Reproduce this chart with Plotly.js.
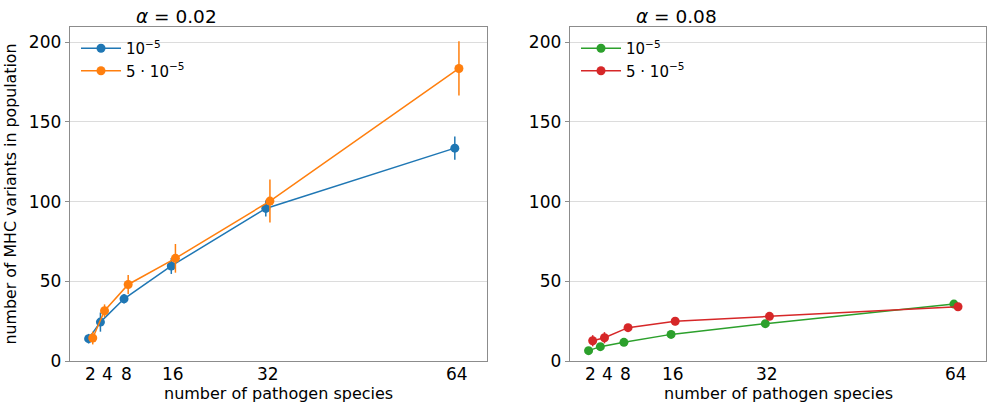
<!DOCTYPE html>
<html><head><meta charset="utf-8">
<script src="https://cdn.plot.ly/plotly-3.0.1.min.js"></script>
<style>html,body{margin:0;padding:0;background:#fff}#c{width:990px;height:404px}</style>
</head><body><div id="c"></div>
<script>
const species = [2, 4, 8, 16, 32, 64];
const tickLabels = ['2', '4', '8', '16', '32', '64'];
const seriesNames = ['10<sup>−5</sup>', '5 · 10<sup>−5</sup>'];
// alpha = 0.02
const a002_low = [14, 24.4, 39, 59.6, 95.7, 133.5];
const a002_low_err = [3, 6, 3, 5, 5, 7.3];
const a002_high = [14.4, 31.5, 48, 64.4, 100.3, 183.5];
const a002_high_err = [4, 4, 6, 9, 13.5, 17];
// alpha = 0.08
const a008_low = [6.5, 9, 11.7, 16.7, 23.4, 35.7];
const a008_low_err = [0.8, 0.8, 0.8, 1, 1, 1];
const a008_high = [12.7, 14.6, 20.9, 24.9, 28, 34];
const a008_high_err = [3.5, 3.5, 2, 2.5, 2, 1.5];

const OFF = 0.35;
const font = 'DejaVu Sans, sans-serif';
function tr(x, y, err, color, name, xa, ya, leg, sign) {
  return {
    x: x.map(v => v + sign * OFF), y: y, name: name,
    type: 'scatter', mode: 'lines+markers',
    xaxis: xa, yaxis: ya, legend: leg,
    line: {color: color, width: 1.5},
    marker: {color: color, size: 9},
    error_y: {type: 'data', array: err, visible: true, color: color, thickness: 1.5, width: 0}
  };
}
const data = [
  tr(species, a002_low, a002_low_err, '#1f77b4', seriesNames[0], 'x', 'y', 'legend', -1),
  tr(species, a002_high, a002_high_err, '#ff7f0e', seriesNames[1], 'x', 'y', 'legend', 1),
  tr(species, a008_low, a008_low_err, '#2ca02c', seriesNames[0], 'x2', 'y2', 'legend2', -1),
  tr(species, a008_high, a008_high_err, '#d62728', seriesNames[1], 'x2', 'y2', 'legend2', 1)
];
const xcommon = {
  range: [-1.5, 69.1], tickvals: species, showticklabels: false,
  showgrid: false, zeroline: false, showline: true, mirror: true,
  linecolor: '#8c8c8c', linewidth: 1.3, ticks: ''
};
const ycommon = {
  range: [0, 209.5], tickvals: [0, 50, 100, 150, 200],
  showgrid: true, gridcolor: '#dcdcdc', gridwidth: 1, zeroline: false,
  showline: true, mirror: true, linecolor: '#8c8c8c', linewidth: 1.3,
  ticks: 'outside', ticklen: 4, tickcolor: '#8c8c8c', tickwidth: 1,
  tickfont: {family: font, size: 17, color: '#000'}
};
const bottom = 1 - 361/404;
const annotations = [
  {text: '<i>α</i> = 0.02', xref: 'paper', yref: 'paper', x: 176/990, y: 1-16/404,
   xanchor: 'center', yanchor: 'middle', showarrow: false, font: {family: font, size: 18.5, color: '#000'}},
  {text: '<i>α</i> = 0.08', xref: 'paper', yref: 'paper', x: 676/990, y: 1-16/404,
   xanchor: 'center', yanchor: 'middle', showarrow: false, font: {family: font, size: 18.5, color: '#000'}},
  {text: 'number of pathogen species', xref: 'paper', yref: 'paper', x: 278/990, y: 1-393/404,
   xanchor: 'center', yanchor: 'middle', showarrow: false, font: {family: font, size: 16, color: '#000'}},
  {text: 'number of pathogen species', xref: 'paper', yref: 'paper', x: 778/990, y: 1-393/404,
   xanchor: 'center', yanchor: 'middle', showarrow: false, font: {family: font, size: 16, color: '#000'}}
];
['x', 'x2'].forEach(xa => {
  species.forEach((s, i) => {
    annotations.push({text: tickLabels[i], xref: xa, yref: 'paper', x: s, y: bottom,
      xanchor: 'center', yanchor: 'top', yshift: -1, xshift: (i === 1 ? 5 : 0), showarrow: false,
      font: {family: font, size: 17, color: '#000'}});
  });
});
const layout = {
  width: 990, height: 404,
  margin: {l: 0, r: 0, t: 0, b: 0},
  paper_bgcolor: '#fff', plot_bgcolor: '#fff',
  showlegend: true,
  xaxis: Object.assign({}, xcommon, {domain: [70/990, 487/990], anchor: 'y'}),
  yaxis: Object.assign({}, ycommon, {domain: [bottom, 1-27/404], anchor: 'x',
    title: {text: 'number of MHC variants in population', font: {family: font, size: 15.8, color: '#000'}, standoff: 8}}),
  xaxis2: Object.assign({}, xcommon, {domain: [570/990, 986/990], anchor: 'y2'}),
  yaxis2: Object.assign({}, ycommon, {domain: [bottom, 1-27/404], anchor: 'x2'}),
  legend: {x: 76/990, y: 1-32/404, xanchor: 'left', yanchor: 'top', bgcolor: 'rgba(0,0,0,0)',
    font: {family: font, size: 15, color: '#000'}, tracegroupgap: 0, itemwidth: 40},
  legend2: {x: 576/990, y: 1-32/404, xanchor: 'left', yanchor: 'top', bgcolor: 'rgba(0,0,0,0)',
    font: {family: font, size: 15, color: '#000'}, tracegroupgap: 0, itemwidth: 40},
  annotations: annotations
};
Plotly.newPlot('c', data, layout, {staticPlot: true, displayModeBar: false});
</script></body></html>
